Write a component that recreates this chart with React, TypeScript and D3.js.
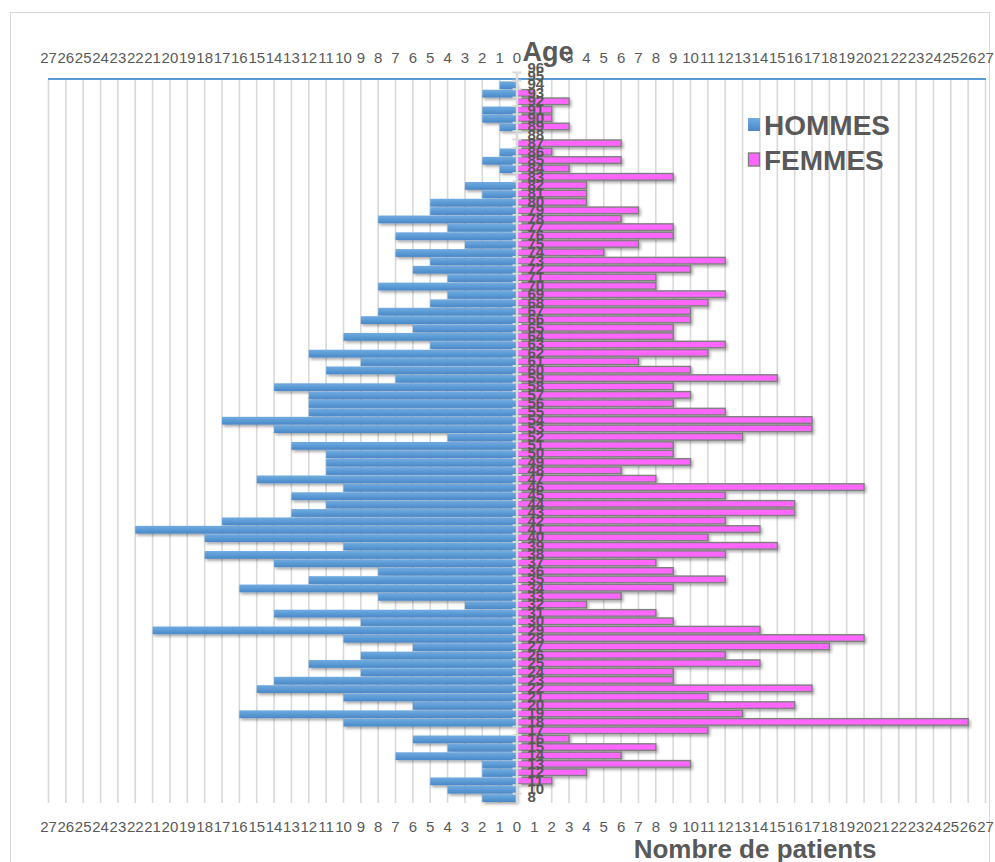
import React from "react";
import * as d3 from "d3";

// Ages present in the data set (age 9 has no patients), bottom to top
const ages = [
  8, 10, 11, 12, 13, 14, 15, 16, 17, 18, 19, 20, 21, 22, 23, 24, 25, 26, 27, 28,
  29, 30, 31, 32, 33, 34, 35, 36, 37, 38, 39, 40, 41, 42, 43, 44, 45, 46, 47, 48,
  49, 50, 51, 52, 53, 54, 55, 56, 57, 58, 59, 60, 61, 62, 63, 64, 65, 66, 67, 68,
  69, 70, 71, 72, 73, 74, 75, 76, 77, 78, 79, 80, 81, 82, 83, 84, 85, 86, 87, 88,
  89, 90, 91, 92, 93, 94, 95, 96,
];

// Number of male patients per age
const hommes = [
  2, 4, 5, 2, 2, 7, 4, 6, 0, 10, 16, 6, 10, 15, 14, 9, 12, 9, 6, 10,
  21, 9, 14, 3, 8, 16, 12, 8, 14, 18, 10, 18, 22, 17, 13, 11, 13, 10, 15, 11,
  11, 11, 13, 4, 14, 17, 12, 12, 12, 14, 7, 11, 9, 12, 5, 10, 6, 9, 8, 5,
  4, 8, 4, 6, 5, 7, 3, 7, 4, 8, 5, 5, 2, 3, 0, 1, 2, 1, 0, 0,
  1, 2, 2, 0, 2, 1, 0, 0,
];

// Number of female patients per age
const femmes = [
  0, 0, 2, 4, 10, 6, 8, 3, 11, 26, 13, 16, 11, 17, 9, 9, 14, 12, 18, 20,
  14, 9, 8, 4, 6, 9, 12, 9, 8, 12, 15, 11, 14, 12, 16, 16, 12, 20, 8, 6,
  10, 9, 9, 13, 17, 17, 12, 9, 10, 9, 15, 10, 7, 11, 12, 9, 9, 10, 10, 11,
  12, 8, 8, 10, 12, 5, 7, 9, 9, 6, 7, 4, 4, 4, 9, 3, 6, 2, 6, 0,
  3, 2, 2, 3, 1, 0, 0, 0,
];

const xTicks = d3.range(-27, 28);
const seriesNames = ["HOMMES", "FEMMES"];

const W = 995;
const H = 862;
const TEXT = "#595959";
const FONT = "'Liberation Sans', Arial, sans-serif";

export default function App() {
  const x = d3.scaleLinear().domain([-27, 27]).range([48.5, 985.5]);
  const y = d3
    .scaleBand<number>()
    .domain([...ages].reverse())
    .range([64, 802])
    .padding(0);
  const bw = y.bandwidth();
  const x0 = x(0);
  const gridTop = 79;
  const gridBottom = 803;

  const rows = ages.map((a, i) => ({ age: a, h: hommes[i], f: femmes[i] }));

  return (
    <svg
      width={W}
      height={H}
      style={{ position: "absolute", left: 0, top: 0, background: "#fff" }}
      fontFamily={FONT}
    >
      <defs>
        <linearGradient id="blueFill" x1="0" y1="0" x2="0" y2="1">
          <stop offset="0" stopColor="#72ABE0" />
          <stop offset="0.5" stopColor="#5B9BD5" />
          <stop offset="1" stopColor="#4A88C7" />
        </linearGradient>
        <filter id="shadow" x="-5%" y="-50%" width="110%" height="200%">
          <feDropShadow dx="1.5" dy="2" stdDeviation="1.5" floodColor="#000" floodOpacity="0.35" />
        </filter>
      </defs>

      <rect x={10.5} y={12.5} width={979} height={860} fill="#fff" stroke="#d9d9d9" />

      {/* vertical gridlines */}
      {xTicks
        .filter((t) => t !== 0)
        .map((t) => (
          <line
            key={`g${t}`}
            x1={x(t)}
            x2={x(t)}
            y1={gridTop}
            y2={gridBottom}
            stroke="#d9d9d9"
            strokeWidth={1.6}
          />
        ))}

      {/* top axis line */}
      <line x1={48} x2={986} y1={79} y2={79} stroke="#5B9BD5" strokeWidth={2} />

      {/* male bars */}
      <g filter="url(#shadow)">
        {rows
          .filter((r) => r.h > 0)
          .map((r) => (
            <rect
              key={`h${r.age}`}
              x={x(-r.h)}
              y={y(r.age)! + 0.6}
              width={x0 - x(-r.h)}
              height={bw - 0.6}
              fill="url(#blueFill)"
            />
          ))}
      </g>

      {/* female bars */}
      <g filter="url(#shadow)">
        {rows
          .filter((r) => r.f > 0)
          .map((r) => (
            <rect
              key={`f${r.age}`}
              x={x0}
              y={y(r.age)! + bw * 0.06}
              width={x(r.f) - x0}
              height={bw * 0.78}
              fill="#FF66FF"
              stroke="#7F7F7F"
              strokeWidth={1.4}
            />
          ))}
      </g>

      {/* category axis */}
      <line x1={x0} x2={x0} y1={73} y2={803} stroke="#d9d9d9" strokeWidth={2.5} />
      {y
        .domain()
        .slice(1)
        .map((a) => (
          <line
            key={`t${a}`}
            x1={x0 - 4.5}
            x2={x0 + 4.5}
            y1={y(a)!}
            y2={y(a)!}
            stroke="#d9d9d9"
            strokeWidth={2}
          />
        ))}

      {/* age labels */}
      {rows.map((r) => (
        <text
          key={`l${r.age}`}
          x={527.5}
          y={y(r.age)! + bw / 2 + 4.5}
          fontSize={15}
          fontWeight="bold"
          fill={TEXT}
        >
          {r.age}
        </text>
      ))}

      {/* value axis labels, top and bottom */}
      {xTicks
        .filter((t) => !(t === 1 || t === 2))
        .map((t) => (
          <text
            key={`tt${t}`}
            x={x(t)}
            y={63}
            fontSize={15}
            textAnchor="middle"
            fill={TEXT}
          >
            {Math.abs(t)}
          </text>
        ))}
      {xTicks.map((t) => (
        <text
          key={`bt${t}`}
          x={x(t)}
          y={831.5}
          fontSize={15}
          textAnchor="middle"
          fill={TEXT}
        >
          {Math.abs(t)}
        </text>
      ))}

      {/* titles */}
      <text x={548} y={61} fontSize={27} fontWeight="bold" textAnchor="middle" fill={TEXT}>
        Age
      </text>
      <text x={755} y={858} fontSize={26} fontWeight="bold" textAnchor="middle" fill={TEXT}>
        Nombre de patients
      </text>

      {/* legend */}
      <g>
        <rect x={748} y={118} width={12} height={13} fill="url(#blueFill)" />
        <text x={764} y={135} fontSize={28} fontWeight="bold" fill={TEXT}>
          {seriesNames[0]}
        </text>
        <rect x={748.5} y={153} width={11} height={13} fill="#FF66FF" stroke="#7F7F7F" strokeWidth={1.4} />
        <text x={764} y={170} fontSize={28} fontWeight="bold" fill={TEXT}>
          {seriesNames[1]}
        </text>
      </g>
    </svg>
  );
}
